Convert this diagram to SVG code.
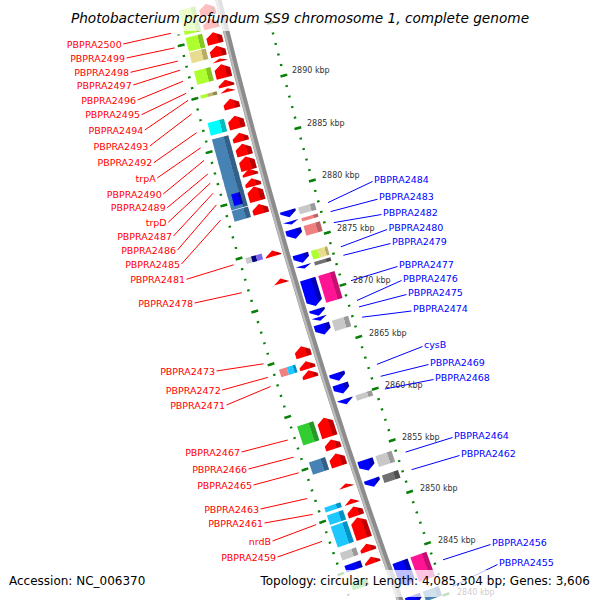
<svg xmlns="http://www.w3.org/2000/svg" width="600" height="600" viewBox="0 0 600 600">
<style>
text{font-family:"DejaVu Sans",Verdana,sans-serif}
.lf{font-size:9.5px;fill:#f00;text-anchor:end}
.lr{font-size:9.5px;fill:#00f}
.tk{font-size:8px;fill:#333}
.ttl{font-size:13.7px;font-style:italic;text-anchor:middle;fill:#000}
.leg{font-size:12px;fill:#000}
.cl line{stroke:#f00;stroke-width:1}
.cb line{stroke:#00f;stroke-width:1}
.f{fill:url(#gR)}.r{fill:url(#gB)}
.lime{fill:url(#gLime)}.khaki{fill:url(#gKhaki)}.cyan{fill:url(#gCyan)}.steel{fill:url(#gSteel)}
.blue{fill:url(#gBlue)}.coral{fill:url(#gCoral)}.sky{fill:url(#gSky)}.silver{fill:url(#gSilver)}
.dim{fill:url(#gDim)}.pink{fill:url(#gPink)}.green{fill:url(#gGreen)}.dkk{fill:url(#gDkk)}
.ring{fill:none;stroke:#0a800a}
</style>
<defs>
<linearGradient id="gR"><stop offset=".7" stop-color="#ff0000"/><stop offset=".7" stop-color="#c00000"/></linearGradient>
<linearGradient id="gB"><stop offset=".7" stop-color="#0000ff"/><stop offset=".7" stop-color="#0000b4"/></linearGradient>
<linearGradient id="gLime"><stop offset=".72" stop-color="#adff2f"/><stop offset=".72" stop-color="#86c623"/></linearGradient>
<linearGradient id="gKhaki"><stop offset=".72" stop-color="#e8dc8e"/><stop offset=".72" stop-color="#b8ad68"/></linearGradient>
<linearGradient id="gCyan"><stop offset=".72" stop-color="#00ffff"/><stop offset=".72" stop-color="#00bcbc"/></linearGradient>
<linearGradient id="gSteel"><stop offset=".72" stop-color="#4682b4"/><stop offset=".72" stop-color="#345f86"/></linearGradient>
<linearGradient id="gBlue"><stop offset=".72" stop-color="#0000ff"/><stop offset=".72" stop-color="#0000b8"/></linearGradient>
<linearGradient id="gCoral"><stop offset=".72" stop-color="#f08080"/><stop offset=".72" stop-color="#bb6262"/></linearGradient>
<linearGradient id="gSky"><stop offset=".72" stop-color="#1ec8ff"/><stop offset=".72" stop-color="#0093c4"/></linearGradient>
<linearGradient id="gSilver"><stop offset=".72" stop-color="#c8c8c8"/><stop offset=".72" stop-color="#9a9a9a"/></linearGradient>
<linearGradient id="gDim"><stop offset=".72" stop-color="#707070"/><stop offset=".72" stop-color="#4e4e4e"/></linearGradient>
<linearGradient id="gPink"><stop offset=".72" stop-color="#ff1493"/><stop offset=".72" stop-color="#c20f70"/></linearGradient>
<linearGradient id="gGreen"><stop offset=".72" stop-color="#32cd32"/><stop offset=".72" stop-color="#25982a"/></linearGradient>
<linearGradient id="gDkk"><stop offset=".6" stop-color="#bdb76b"/><stop offset=".6" stop-color="#8e894f"/></linearGradient>
</defs>

<g id="map" transform="translate(5851,-1379) rotate(-16.83) translate(-5799,0)">
 <g id="ticks">
  <path class="ring" d="M-39.83,-289.37 A5846,5846 0 0 0 -35.07,373.26" stroke-width="2.5" stroke-dasharray="2 9.05" stroke-dashoffset="1"/>
  <path class="ring" d="M-39.83,-289.37 A5846,5846 0 0 0 -35.07,373.26" stroke-width="7" stroke-dasharray="2.5 52.75" stroke-dashoffset="-9.8"/>
  <path class="ring" d="M52.05,-284.82 A5754,5754 0 0 0 56.74,367.39" stroke-width="2.5" stroke-dasharray="2 8.876" stroke-dashoffset="1"/>
  <path class="ring" d="M52.05,-284.82 A5754,5754 0 0 0 56.74,367.39" stroke-width="7" stroke-dasharray="2.5 51.88" stroke-dashoffset="-9.626"/>
 </g>
 <g id="backbone">
  <path d="M9.62,-333.8 A5799,5799 0 0 0 12.08,374.22" fill="none" stroke="#8c8c8c" stroke-width="6.5"/>
  <path d="M7.82,-333.91 A5800.8,5800.8 0 0 0 10.29,374.34" fill="none" stroke="#bdbdbd" stroke-width="2.2"/>
 </g>
 <g id="genes">
  <g id="PBPRA2501" transform="rotate(3.008 5799 0)"><rect class="lime" x="-41" y="-6" width="17" height="12"/><polygon class="f" points="-21,6 -21,-1 -13,-6 -5,-1 -5,6"/></g>
  <g id="PBPRA2500" transform="rotate(2.866 5799 0)"><rect class="lime" x="-41" y="-7" width="17" height="12"/><polygon class="f" points="-21,5 -21,0 -13,-5 -5,0 -5,5"/></g>
  <g id="PBPRA2499" transform="rotate(2.719 5799 0)"><rect class="lime" x="-41" y="-7" width="17" height="14"/><polygon class="f" points="-21,6 -21,-1 -13,-6 -5,-1 -5,6"/></g>
  <g id="PBPRA2498" transform="rotate(2.586 5799 0)"><rect class="khaki" x="-41" y="-5.5" width="17" height="11"/><polygon class="f" points="-21,5.5 -21,-0.5 -13,-5.5 -5,-0.5 -5,5.5"/></g>
  <g id="PBPRA2497" transform="rotate(2.495 5799 0)"><polygon class="f" points="-21,1.5 -13,-1.5 -5,1.5"/></g>
  <g id="PBPRA2496" transform="rotate(2.383 5799 0)"><rect class="lime" x="-41" y="-7" width="17" height="14"/><polygon class="f" points="-21,7 -21,-2 -13,-7 -5,-2 -5,7"/></g>
  <g id="PBPRA2495" transform="rotate(2.260 5799 0)"><polygon class="f" points="-21,3.5 -21,1.5 -13,-3.5 -5,1.5 -5,3.5"/></g>
  <g id="PBPRA2494" transform="rotate(2.189 5799 0)"><rect fill="#adff2f" x="-41" y="-1.75" width="7" height="3.5"/><rect class="dkk" x="-34" y="-1.75" width="10" height="3.5"/><polygon class="f" points="-21,1.75 -13,-1.75 -5,1.75"/></g>
  <g id="PBPRA2493" transform="rotate(2.051 5799 0)"><polygon class="f" points="-21,5 -21,0 -13,-5 -5,0 -5,5"/></g>
  <g id="PBPRA2492" transform="rotate(1.862 5799 0)"><rect class="cyan" x="-41" y="-6.5" width="17" height="13"/><polygon class="f" points="-21,6.5 -21,-1.5 -13,-6.5 -5,-1.5 -5,6.5"/></g>
  <g id="trpA" transform="rotate(1.709 5799 0)"><rect class="steel" x="-41" y="-5" width="17" height="12"/><polygon class="f" points="-21,4.5 -21,0.5 -13,-4.5 -5,0.5 -5,4.5"/></g>
  <g id="PBPRA2490" transform="rotate(1.581 5799 0)"><rect class="steel" x="-41" y="-7" width="17" height="15"/><polygon class="f" points="-21,6 -21,-1 -13,-6 -5,-1 -5,6"/></g>
  <g id="PBPRA2489" transform="rotate(1.443 5799 0)"><rect class="steel" x="-41" y="-7" width="17" height="17"/><polygon class="f" points="-21,7 -21,-2 -13,-7 -5,-2 -5,7"/></g>
  <g id="trpD" transform="rotate(1.351 5799 0)"><rect class="steel" x="-41" y="-4" width="17" height="12"/><polygon class="f" points="-21,3.5 -21,1.5 -13,-3.5 -5,1.5 -5,3.5"/></g>
  <g id="PBPRA2487" transform="rotate(1.248 5799 0)"><rect class="steel" x="-41" y="-4.5" width="17" height="12"/><polygon class="f" points="-21,4 -21,1 -13,-4 -5,1 -5,4"/></g>
  <g id="PBPRA2486" transform="rotate(1.130 5799 0)"><rect class="steel" x="-41" y="-7.5" width="17" height="17"/><rect class="blue" x="-37" y="-6" width="9" height="12"/><polygon class="f" points="-21,7.5 -21,-2.5 -13,-7.5 -5,-2.5 -5,7.5"/></g>
  <g id="PBPRA2485" transform="rotate(0.976 5799 0)"><rect class="steel" x="-41" y="-5.5" width="17" height="11"/><polygon class="f" points="-21,5 -21,0 -13,-5 -5,0 -5,5"/></g>
  <g id="PBPRA2481" transform="rotate(0.519 5799 0)"><rect fill="#c8c8c8" x="-41" y="-3" width="6" height="6"/><rect fill="#000080" x="-35" y="-3" width="5" height="6"/><rect fill="#7b68ee" x="-30" y="-3" width="6" height="6"/><polygon class="f" points="-21,3 -21,2 -13,-3 -5,2 -5,3"/></g>
  <g id="PBPRA2478" transform="rotate(0.235 5799 0)"><polygon class="f" points="-21,2.5 -13,-2.5 -5,2.5"/></g>
  <g id="PBPRA2473" transform="rotate(-0.493 5799 0)"><polygon class="f" points="-21,5.5 -21,-0.5 -13,-5.5 -5,-0.5 -5,5.5"/></g>
  <g id="PBPRA2472" transform="rotate(-0.633 5799 0)"><rect fill="#f08080" x="-41" y="-4" width="8" height="8"/><rect class="sky" x="-33" y="-4" width="9" height="8"/><polygon class="f" points="-21,4 -21,1 -13,-4 -5,1 -5,4"/></g>
  <g id="PBPRA2471" transform="rotate(-0.726 5799 0)"><polygon class="f" points="-21,4 -21,1 -13,-4 -5,1 -5,4"/></g>
  <g id="PBPRA2467" transform="rotate(-1.276 5799 0)"><rect class="green" x="-41" y="-10" width="17" height="20"/><polygon class="f" points="-21,10 -21,-5 -13,-10 -5,-5 -5,10"/></g>
  <g id="PBPRA2466" transform="rotate(-1.453 5799 0)"><polygon class="f" points="-21,5 -21,0 -13,-5 -5,0 -5,5"/></g>
  <g id="PBPRA2465" transform="rotate(-1.614 5799 0)"><rect class="steel" x="-41" y="-6.5" width="17" height="13"/><polygon class="f" points="-21,6.5 -21,-1.5 -13,-6.5 -5,-1.5 -5,6.5"/></g>
  <g id="PBPRA2463" transform="rotate(-1.880 5799 0)"><polygon class="f" points="-21,2 -13,-2 -5,2"/></g>
  <g id="PBPRA2461" transform="rotate(-2.044 5799 0)"><rect class="sky" x="-41" y="-2.5" width="17" height="5"/><polygon class="f" points="-21,2.5 -13,-2.5 -5,2.5"/></g>
  <g id="nrdB" transform="rotate(-2.149 5799 0)"><rect class="sky" x="-41" y="-5" width="17" height="10"/><polygon class="f" points="-21,5 -21,0 -13,-5 -5,0 -5,5"/></g>
  <g id="PBPRA2459" transform="rotate(-2.323 5799 0)"><rect class="sky" x="-41" y="-11" width="17" height="22"/><polygon class="f" points="-21,11 -21,-6 -13,-11 -5,-6 -5,11"/></g>
  <g id="PBPRA2458" transform="rotate(-2.527 5799 0)"><rect class="silver" x="-41" y="-4" width="17" height="8"/><polygon class="f" points="-21,4 -21,1 -13,-4 -5,1 -5,4"/></g>
  <g id="PBPRA2457" transform="rotate(-2.658 5799 0)"><rect class="blue" x="-41" y="-3.5" width="17" height="7"/><polygon class="f" points="-21,3.5 -21,1.5 -13,-3.5 -5,1.5 -5,3.5"/></g>
  <g id="PBPRA2454" transform="rotate(-2.84 5799 0)"><rect class="green" x="-41" y="-4" width="17" height="8"/></g>

  <g id="PBPRA2484" transform="rotate(0.85 5799 0)"><polygon class="r" points="5,-3.5 21,-3.5 21,-1.5 13,3.5 5,-1.5"/><rect class="silver" x="24" y="-3.6" width="17" height="7.2"/></g>
  <g id="PBPRA2483" transform="rotate(0.757 5799 0)"><polygon class="r" points="5,-1.75 21,-1.75 13,1.75"/><rect class="coral" x="24" y="-1.75" width="17" height="3.5"/></g>
  <g id="PBPRA2482" transform="rotate(0.643 5799 0)"><polygon class="r" points="5,-5 21,-5 21,0 13,5 5,0"/><rect class="coral" x="24" y="-5" width="17" height="10"/></g>
  <g id="PBPRA2480" transform="rotate(0.391 5799 0)"><polygon class="r" points="5,-4.5 21,-4.5 21,-0.5 13,4.5 5,-0.5"/><rect fill="#adff2f" x="24" y="-4.5" width="7" height="9"/><rect class="khaki" x="31" y="-4.5" width="10" height="9"/></g>
  <g id="PBPRA2479" transform="rotate(0.303 5799 0)"><polygon class="r" points="5,-1.75 21,-1.75 13,1.75"/><rect class="dim" x="24" y="-1.75" width="17" height="3.5"/></g>
  <g id="PBPRA2477" transform="rotate(0.038 5799 0)"><polygon class="r" points="5,-14 21,-14 21,9 13,14 5,9"/><rect class="pink" x="24" y="-14" width="17" height="28"/></g>
  <g id="PBPRA2476" transform="rotate(-0.168 5799 0)"><polygon class="r" points="5,-3.5 21,-3.5 21,-1.5 13,3.5 5,-1.5"/></g>
  <g id="PBPRA2475" transform="rotate(-0.235 5799 0)"><polygon class="r" points="5,-2 21,-2 13,2"/></g>
  <g id="PBPRA2474" transform="rotate(-0.342 5799 0)"><polygon class="r" points="5,-5.5 21,-5.5 21,0.5 13,5.5 5,0.5"/><rect class="silver" x="24" y="-5.5" width="17" height="11"/></g>
  <g id="cysB" transform="rotate(-0.836 5799 0)"><polygon class="r" points="5,-4 21,-4 21,-1 13,4 5,-1"/></g>
  <g id="PBPRA2469" transform="rotate(-0.960 5799 0)"><polygon class="r" points="5,-5 21,-5 21,0 13,5 5,0"/></g>
  <g id="PBPRA2468" transform="rotate(-1.093 5799 0)"><polygon class="r" points="5,-2.75 21,-2.75 21,-2.25 13,2.75 5,-2.25"/><rect class="silver" x="24" y="-2.75" width="17" height="5.5"/></g>
  <g id="PBPRA2464" transform="rotate(-1.756 5799 0)"><polygon class="r" points="5,-5.75 21,-5.75 21,0.75 13,5.75 5,0.75"/><rect class="silver" x="24" y="-5.75" width="17" height="11.5"/></g>
  <g id="PBPRA2462" transform="rotate(-1.941 5799 0)"><polygon class="r" points="5,-4 21,-4 21,-1 13,4 5,-1"/><rect class="dim" x="24" y="-4" width="17" height="8"/></g>
  <g id="PBPRA2456" transform="rotate(-2.892 5799 0)"><polygon class="r" points="5,-13 21,-13 21,8 13,13 5,8"/><rect class="pink" x="24" y="-13" width="17" height="26"/></g>
  <g id="PBPRA2455" transform="rotate(-3.174 5799 0)"><polygon class="r" points="5,-5 21,-5 21,0 13,5 5,0"/><rect class="steel" x="24" y="-5" width="17" height="10"/></g>
 </g>
</g>

<g id="tick-labels" class="tk">
 <text x="292" y="73">2890 kbp</text>
 <text x="307" y="126">2885 kbp</text>
 <text x="322" y="178">2880 kbp</text>
 <text x="337" y="231">2875 kbp</text>
 <text x="353" y="283">2870 kbp</text>
 <text x="369" y="336">2865 kbp</text>
 <text x="385" y="388">2860 kbp</text>
 <text x="402" y="440">2855 kbp</text>
 <text x="420" y="491">2850 kbp</text>
 <text x="438" y="543">2845 kbp</text>
 <text x="457" y="595">2840 kbp</text>
</g>

<g id="connectors">
 <g class="cl">
  <line x1="123.2" y1="44" x2="170.9" y2="33.3"/>
  <line x1="126.5" y1="58" x2="174.6" y2="47.9"/>
  <line x1="130.5" y1="72.3" x2="177.9" y2="61.1"/>
  <line x1="133.2" y1="85" x2="180.2" y2="70.1"/>
  <line x1="137.5" y1="100" x2="183.1" y2="81.2"/>
  <line x1="141.5" y1="114.7" x2="186.2" y2="93.3"/>
  <line x1="144.8" y1="130" x2="188.1" y2="100.4"/>
  <line x1="149.8" y1="146" x2="191.6" y2="114"/>
  <line x1="153.8" y1="162.7" x2="196.6" y2="132.7"/>
  <line x1="157.2" y1="178" x2="200.7" y2="147.8"/>
  <line x1="163.2" y1="194" x2="204.1" y2="160.4"/>
  <line x1="167.2" y1="207.7" x2="207.8" y2="174"/>
  <line x1="168.2" y1="222.3" x2="210.3" y2="183.1"/>
  <line x1="173.5" y1="236" x2="213.1" y2="193.2"/>
  <line x1="177.5" y1="250" x2="216.4" y2="204.8"/>
  <line x1="181.5" y1="264" x2="220.7" y2="220"/>
  <line x1="186.5" y1="279.3" x2="233.6" y2="264.8"/>
  <line x1="194.5" y1="303" x2="241.8" y2="292.7"/>
  <line x1="216.5" y1="371" x2="263.5" y2="363.8"/>
  <line x1="222.2" y1="390" x2="267.8" y2="377.4"/>
  <line x1="226.5" y1="405" x2="270.6" y2="386.5"/>
  <line x1="241.5" y1="452" x2="287.8" y2="440"/>
  <line x1="248.5" y1="469" x2="293.5" y2="457.2"/>
  <line x1="253.5" y1="485" x2="298.7" y2="472.8"/>
  <line x1="260.5" y1="509" x2="307.3" y2="498.5"/>
  <line x1="264.5" y1="523" x2="312.7" y2="514.4"/>
  <line x1="272.5" y1="541" x2="316.2" y2="524.6"/>
  <line x1="277.5" y1="557" x2="322" y2="541.4"/>
 </g>
 <g class="cb">
  <line x1="328" y1="202.6" x2="372.5" y2="181.5"/>
  <line x1="330.6" y1="211.6" x2="377.5" y2="199.2"/>
  <line x1="333.8" y1="222.6" x2="381.5" y2="214.5"/>
  <line x1="340.9" y1="246.8" x2="387" y2="229.5"/>
  <line x1="343.4" y1="255.3" x2="390.5" y2="243.5"/>
  <line x1="351" y1="280.7" x2="397.5" y2="266.5"/>
  <line x1="357" y1="300.5" x2="401.5" y2="280.5"/>
  <line x1="359" y1="306.9" x2="406.5" y2="294.5"/>
  <line x1="362.1" y1="317.2" x2="411.5" y2="311"/>
  <line x1="376.9" y1="364.4" x2="422.5" y2="346.5"/>
  <line x1="380.7" y1="376.3" x2="428.5" y2="364.5"/>
  <line x1="384.8" y1="389" x2="433.5" y2="379.5"/>
  <line x1="405.6" y1="452.1" x2="452.5" y2="437.5"/>
  <line x1="411.6" y1="469.7" x2="459.5" y2="455.5"/>
  <line x1="443" y1="559.8" x2="490.5" y2="544.5"/>
  <line x1="452.7" y1="586.4" x2="497.5" y2="564.5"/>
 </g>
</g>

<g id="labels">
 <text class="lf" x="121.7" y="47.5">PBPRA2500</text>
 <text class="lf" x="125" y="61.5">PBPRA2499</text>
 <text class="lf" x="129" y="75.8">PBPRA2498</text>
 <text class="lf" x="131.7" y="88.5">PBPRA2497</text>
 <text class="lf" x="136" y="103.5">PBPRA2496</text>
 <text class="lf" x="140" y="118.2">PBPRA2495</text>
 <text class="lf" x="143.3" y="133.5">PBPRA2494</text>
 <text class="lf" x="148.3" y="149.5">PBPRA2493</text>
 <text class="lf" x="152.3" y="166.2">PBPRA2492</text>
 <text class="lf" x="155.7" y="181.5">trpA</text>
 <text class="lf" x="161.7" y="197.5">PBPRA2490</text>
 <text class="lf" x="165.7" y="211.2">PBPRA2489</text>
 <text class="lf" x="166.7" y="225.8">trpD</text>
 <text class="lf" x="172" y="239.5">PBPRA2487</text>
 <text class="lf" x="176" y="253.5">PBPRA2486</text>
 <text class="lf" x="180" y="267.5">PBPRA2485</text>
 <text class="lf" x="185" y="282.8">PBPRA2481</text>
 <text class="lf" x="193" y="306.5">PBPRA2478</text>
 <text class="lf" x="215" y="374.5">PBPRA2473</text>
 <text class="lf" x="220.7" y="393.5">PBPRA2472</text>
 <text class="lf" x="225" y="408.5">PBPRA2471</text>
 <text class="lf" x="240" y="455.5">PBPRA2467</text>
 <text class="lf" x="247" y="472.5">PBPRA2466</text>
 <text class="lf" x="252" y="488.5">PBPRA2465</text>
 <text class="lf" x="259" y="512.5">PBPRA2463</text>
 <text class="lf" x="263" y="526.5">PBPRA2461</text>
 <text class="lf" x="271" y="544.5">nrdB</text>
 <text class="lf" x="276" y="560.5">PBPRA2459</text>
 <text class="lr" x="374" y="182.5">PBPRA2484</text>
 <text class="lr" x="379" y="200.2">PBPRA2483</text>
 <text class="lr" x="383" y="215.5">PBPRA2482</text>
 <text class="lr" x="388.5" y="230.5">PBPRA2480</text>
 <text class="lr" x="392" y="244.5">PBPRA2479</text>
 <text class="lr" x="399" y="267.5">PBPRA2477</text>
 <text class="lr" x="403" y="281.5">PBPRA2476</text>
 <text class="lr" x="408" y="295.5">PBPRA2475</text>
 <text class="lr" x="413" y="312">PBPRA2474</text>
 <text class="lr" x="424" y="347.5">cysB</text>
 <text class="lr" x="430" y="365.5">PBPRA2469</text>
 <text class="lr" x="435" y="380.5">PBPRA2468</text>
 <text class="lr" x="454" y="438.5">PBPRA2464</text>
 <text class="lr" x="461" y="456.5">PBPRA2462</text>
 <text class="lr" x="492" y="545.5">PBPRA2456</text>
 <text class="lr" x="499" y="565.5">PBPRA2455</text>
</g>

<g id="title">
 <rect x="66" y="0" width="468" height="31" fill="#fff" fill-opacity="0.75"/>
 <text class="ttl" x="300" y="23">Photobacterium profundum SS9 chromosome 1, complete genome</text>
</g>
<g id="legend">
 <rect x="3" y="570" width="150" height="27" fill="#fff" fill-opacity="0.75"/>
 <rect x="255" y="570" width="342" height="27" fill="#fff" fill-opacity="0.75"/>
 <text class="leg" x="9" y="585">Accession: NC_006370</text>
 <text class="leg" x="590" y="585" text-anchor="end">Topology: circular; Length: 4,085,304 bp; Genes: 3,606</text>
</g>
</svg>
